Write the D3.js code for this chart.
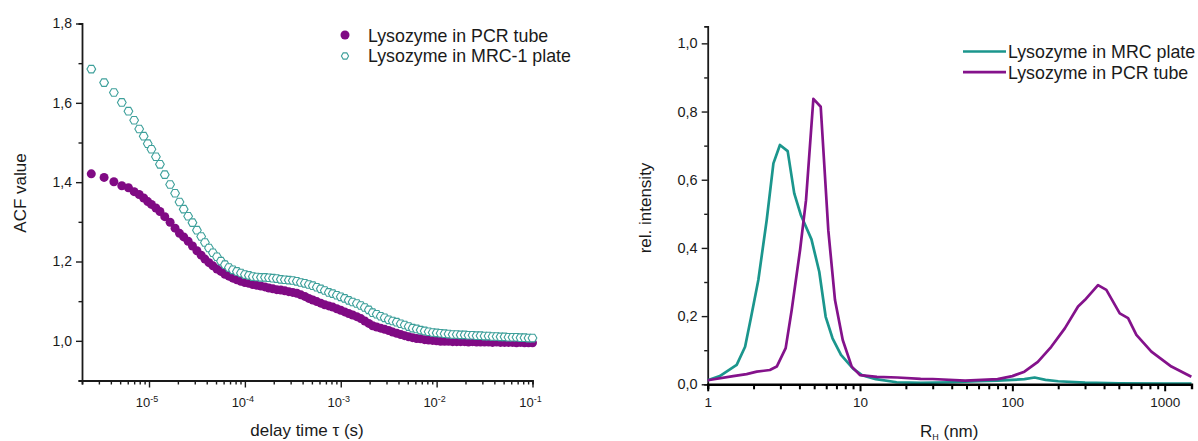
<!DOCTYPE html>
<html>
<head>
<meta charset="utf-8">
<script src="https://cdn.jsdelivr.net/npm/d3@7"></script>
<style>
  html, body { margin: 0; padding: 0; background: #fff; }
  svg { display: block; font-family: "Liberation Sans", Arial, sans-serif; }
</style>
</head>
<body>
<svg id="chart" width="1198" height="441"></svg>
<script>
// ---------- Left panel: autocorrelation function ----------
const tauUs = [2.5, 3.4, 4.3, 5.2, 6.1, 7.0, 7.9, 8.8, 9.7, 10.6, 11.8, 13.0, 14.6, 16.6, 18.7, 20.8, 23.0, 25.6, 28.4, 31.6,
  35.0, 38.3, 42.2, 46.4, 51.1, 56.2, 61.9, 68.1, 75.0, 82.5, 90.9,
  100, 110, 121, 133, 147, 162, 178, 196, 215, 237, 261, 287, 316, 348, 383, 422, 464, 511, 562, 619, 681, 750, 825, 909,
  1000, 1100, 1210, 1330, 1470, 1620, 1780, 1960, 2150, 2370, 2610, 2870, 3160, 3480, 3830, 4220, 4640, 5110, 5620, 6190, 6810, 7500, 8250, 9090,
  10000, 11000, 12100, 13300, 14700, 16200, 17800, 19600, 21500, 23700, 26100, 28700, 31600, 34800, 38300, 42200, 46400, 51100, 56200, 61900, 68100, 75000, 82500, 90900, 100000];

const acfPCR = [1.421, 1.412, 1.401, 1.391, 1.386, 1.376, 1.369, 1.360, 1.351, 1.344, 1.335, 1.326, 1.313, 1.299, 1.284, 1.271, 1.262, 1.251, 1.239, 1.227,
  1.216, 1.206, 1.197, 1.189, 1.181, 1.175, 1.168, 1.163, 1.158, 1.154, 1.150,
  1.147, 1.145, 1.142, 1.140, 1.138, 1.136, 1.133, 1.131, 1.129, 1.128, 1.126, 1.124, 1.122, 1.120, 1.116, 1.112, 1.107, 1.103, 1.099, 1.095, 1.091, 1.088, 1.085, 1.081,
  1.077, 1.073, 1.069, 1.065, 1.061, 1.056, 1.050, 1.044, 1.038, 1.035, 1.032, 1.029, 1.026, 1.022, 1.019, 1.016, 1.013, 1.010, 1.008, 1.006, 1.005, 1.003, 1.002, 1.001,
  1.000, 0.999, 0.999, 0.999, 0.998, 0.998, 0.998, 0.998, 0.997, 0.998, 0.997, 0.997, 0.997, 0.997, 0.996, 0.997, 0.996, 0.996, 0.996, 0.996, 0.995, 0.996, 0.995, 0.995, 0.995];

const acfMRC = [1.685, 1.651, 1.626, 1.601, 1.579, 1.556, 1.534, 1.516, 1.497, 1.483, 1.464, 1.445, 1.419, 1.394, 1.372, 1.350, 1.332, 1.314, 1.298, 1.279,
  1.263, 1.248, 1.234, 1.222, 1.212, 1.201, 1.192, 1.185, 1.179, 1.175, 1.171,
  1.167, 1.165, 1.162, 1.161, 1.160, 1.160, 1.159, 1.158, 1.157, 1.155, 1.154, 1.153, 1.152, 1.150, 1.147, 1.145, 1.142, 1.139, 1.135, 1.131, 1.127, 1.122, 1.119, 1.115,
  1.111, 1.107, 1.102, 1.098, 1.094, 1.089, 1.084, 1.078, 1.071, 1.067, 1.062, 1.058, 1.053, 1.050, 1.047, 1.043, 1.040, 1.036, 1.032, 1.030, 1.027, 1.025, 1.023, 1.021,
  1.020, 1.019, 1.018, 1.017, 1.016, 1.016, 1.015, 1.015, 1.014, 1.014, 1.013, 1.013, 1.012, 1.012, 1.011, 1.011, 1.010, 1.010, 1.009, 1.009, 1.009, 1.008, 1.008, 1.007, 1.007];

const acfTicks = [1.0, 1.2, 1.4, 1.6, 1.8];
const acfTickLabels = ["1,0", "1,2", "1,4", "1,6", "1,8"];
const acfMinorTicks = [0.9, 1.1, 1.3, 1.5, 1.7];
const tauTicks = [1e-5, 1e-4, 1e-3, 1e-2, 1e-1];
const tauTickExp = ["-5", "-4", "-3", "-2", "-1"];
const leftLegend = ["Lysozyme in PCR tube", "Lysozyme in MRC-1 plate"];

// ---------- Right panel: size distribution ----------
const rhMRC = [1.0, 1.2, 1.55, 1.76, 1.92, 2.15, 2.44, 2.70, 2.98, 3.35, 3.70, 4.1, 4.8, 5.4, 5.95, 6.6, 7.5, 9.0, 10.3, 12.7, 17.4, 25, 40, 60, 80, 100, 120, 140, 165, 200, 300, 500, 1000, 1500];
const intMRC = [0.012, 0.024, 0.057, 0.110, 0.194, 0.306, 0.482, 0.648, 0.702, 0.684, 0.560, 0.495, 0.425, 0.330, 0.198, 0.135, 0.086, 0.046, 0.027, 0.015, 0.006, 0.004, 0.006, 0.009, 0.011, 0.013, 0.015, 0.020, 0.013, 0.009, 0.005, 0.003, 0.002, 0.002];

const rhPCR = [1.0, 1.47, 1.80, 2.10, 2.56, 2.84, 3.25, 3.56, 4.04, 4.42, 4.94, 5.52, 6.19, 6.85, 7.70, 8.82, 10, 12.9, 17.6, 25, 30, 49, 63, 80, 100, 120, 147, 180, 221, 270, 299, 365, 414, 507, 575, 652, 818, 1107, 1497];
const intPCR = [0.012, 0.024, 0.030, 0.037, 0.042, 0.052, 0.106, 0.218, 0.394, 0.540, 0.837, 0.814, 0.452, 0.247, 0.130, 0.052, 0.027, 0.022, 0.020, 0.016, 0.0155, 0.011, 0.013, 0.015, 0.024, 0.037, 0.066, 0.110, 0.164, 0.228, 0.247, 0.291, 0.277, 0.208, 0.194, 0.145, 0.096, 0.052, 0.022];

const intTicks = [0, 0.2, 0.4, 0.6, 0.8, 1.0];
const intTickLabels = ["0,0", "0,2", "0,4", "0,6", "0,8", "1,0"];
const intMinorTicks = [0.1, 0.3, 0.5, 0.7, 0.9];
const rhTicks = [1, 10, 100, 1000];
const rhTickLabels = ["1", "10", "100", "1000"];
const rightLegend = ["Lysozyme in MRC plate", "Lysozyme in PCR tube"];

// ---------- colours ----------
const purple = "#800a84";
const cyanMarker = "#3ea09b";
const tealLine = "#1b968d";
const purpleLine = "#84128b";
const axisColor = "#1a1a1a";
const textColor = "#1a1a1a";

const svg = d3.select("#chart");

// hexagon symbol (size = radius squared)
const hexagon = {
  draw(ctx, size) {
    const r = Math.sqrt(size);
    for (let i = 0; i < 6; i++) {
      const a = Math.PI / 3 * i;
      const px = r * Math.cos(a), py = r * Math.sin(a);
      if (i === 0) ctx.moveTo(px, py); else ctx.lineTo(px, py);
    }
    ctx.closePath();
  }
};

// ================= LEFT PANEL =================
const xL = d3.scaleLog().domain([2e-6, 0.1]).range([82, 532.5]);
const yL = d3.scaleLinear().domain([0.9, 1.8]).range([380.5, 23.5]);
const L = svg.append("g");

const minorTau = xL.ticks().filter(v => !tauTicks.some(t => Math.abs(t - v) / t < 1e-6));
L.append("g").attr("transform", `translate(0,${yL(0.9)})`)
  .call(d3.axisBottom(xL).tickValues(minorTau).tickSize(4).tickFormat(""))
  .call(g => g.select(".domain").attr("stroke", axisColor).attr("stroke-width", 1.8))
  .call(g => g.selectAll(".tick line").attr("stroke", axisColor).attr("stroke-width", 1.4));
L.append("g").attr("transform", `translate(0,${yL(0.9)})`)
  .call(d3.axisBottom(xL).tickValues(tauTicks).tickSize(7).tickFormat(""))
  .call(g => g.select(".domain").remove())
  .call(g => g.selectAll(".tick line").attr("stroke", axisColor).attr("stroke-width", 1.4));
tauTicks.forEach((t, i) => {
  const tx = L.append("text").attr("x", xL(t) - 2).attr("y", 406.5)
    .attr("text-anchor", "middle").attr("font-size", 13).attr("fill", textColor);
  tx.append("tspan").text("10");
  tx.append("tspan").attr("dy", -5).attr("font-size", 9).text(tauTickExp[i]);
});

L.append("g").attr("transform", `translate(${xL(2e-6)},0)`)
  .call(d3.axisLeft(yL).tickValues(acfMinorTicks).tickSize(3.5).tickFormat(""))
  .call(g => g.select(".domain").attr("stroke", axisColor).attr("stroke-width", 1.8))
  .call(g => g.selectAll(".tick line").attr("stroke", axisColor).attr("stroke-width", 1.4));
L.append("g").attr("transform", `translate(${xL(2e-6)},0)`)
  .call(d3.axisLeft(yL).tickValues(acfTicks).tickSize(6).tickPadding(4).tickFormat((d, i) => acfTickLabels[i]))
  .call(g => g.select(".domain").remove())
  .call(g => g.selectAll(".tick line").attr("stroke", axisColor).attr("stroke-width", 1.4))
  .call(g => g.selectAll(".tick text").attr("font-size", 14).attr("fill", textColor)
    .attr("font-family", "Liberation Sans, Arial, sans-serif"));

L.append("text").attr("transform", `translate(26,193) rotate(-90)`)
  .attr("text-anchor", "middle").attr("font-size", 17).attr("fill", textColor).text("ACF value");
L.append("text").attr("x", 307).attr("y", 436)
  .attr("text-anchor", "middle").attr("font-size", 17).attr("fill", textColor).text("delay time τ (s)");

// data
const pts = tauUs.map((t, i) => ({ tau: t * 1e-6, pcr: acfPCR[i], mrc: acfMRC[i] }));
L.append("g").selectAll("circle").data(pts).join("circle")
  .attr("cx", d => xL(d.tau)).attr("cy", d => yL(d.pcr)).attr("r", 4.5)
  .attr("fill", purple);
const hexPath = d3.symbol().type(hexagon).size(19)();
L.append("g").selectAll("path").data(pts).join("path")
  .attr("d", hexPath)
  .attr("transform", d => `translate(${xL(d.tau)},${yL(d.mrc)})`)
  .attr("fill", "#fff").attr("stroke", cyanMarker).attr("stroke-width", 1.1);

// legend
const lg = L.append("g");
lg.append("circle").attr("cx", 345).attr("cy", 35).attr("r", 4.5).attr("fill", purple);
lg.append("path").attr("d", d3.symbol().type(hexagon).size(13)())
  .attr("transform", "translate(345,56)").attr("fill", "#fff").attr("stroke", cyanMarker).attr("stroke-width", 1.1);
leftLegend.forEach((s, i) => {
  lg.append("text").attr("x", 368).attr("y", 41.5 + i * 20.7).attr("font-size", 17.8).attr("fill", textColor).text(s);
});

// ================= RIGHT PANEL =================
const xR = d3.scaleLog().domain([1, 1500]).range([707.7, 1191.5]);
const yR = d3.scaleLinear().domain([0, 1.05]).range([384.3, 26.3]);
const R = svg.append("g");

R.append("g").attr("transform", `translate(${xR(1)},0)`)
  .call(d3.axisLeft(yR).tickValues(intMinorTicks).tickSize(3.5).tickFormat(""))
  .call(g => g.select(".domain").attr("stroke", axisColor).attr("stroke-width", 1.8))
  .call(g => g.selectAll(".tick line").attr("stroke", axisColor).attr("stroke-width", 1.4));
R.append("g").attr("transform", `translate(${xR(1)},0)`)
  .call(d3.axisLeft(yR).tickValues(intTicks).tickSize(6).tickPadding(4).tickFormat((d, i) => intTickLabels[i]))
  .call(g => g.select(".domain").remove())
  .call(g => g.selectAll(".tick line").attr("stroke", axisColor).attr("stroke-width", 1.4))
  .call(g => g.selectAll(".tick text").attr("font-size", 14.5).attr("fill", textColor)
    .attr("font-family", "Liberation Sans, Arial, sans-serif"));

R.append("text").attr("transform", `translate(651,208) rotate(-90)`)
  .attr("text-anchor", "middle").attr("font-size", 17).attr("fill", textColor).text("rel. intensity");

// data lines
const lineR = d3.line().x(d => xR(d[0])).y(d => yR(d[1]));
R.append("path").datum(rhMRC.map((r, i) => [r, intMRC[i]]))
  .attr("d", lineR).attr("fill", "none").attr("stroke", tealLine).attr("stroke-width", 2.7)
  .attr("stroke-linejoin", "round");
R.append("path").datum(rhPCR.map((r, i) => [r, intPCR[i]]))
  .attr("d", lineR).attr("fill", "none").attr("stroke", purpleLine).attr("stroke-width", 2.7)
  .attr("stroke-linejoin", "round");

// x axis (drawn above data)
const minorRh = xR.ticks().filter(v => !rhTicks.includes(v));
R.append("g").attr("transform", `translate(0,${yR(0)})`)
  .call(d3.axisBottom(xR).tickValues(minorRh).tickSize(5).tickFormat(""))
  .call(g => g.select(".domain").attr("stroke", "#000").attr("stroke-width", 2.4))
  .call(g => g.selectAll(".tick line").attr("stroke", "#000").attr("stroke-width", 2));
R.append("g").attr("transform", `translate(0,${yR(0)})`)
  .call(d3.axisBottom(xR).tickValues(rhTicks).tickSize(7).tickPadding(6).tickFormat((d, i) => rhTickLabels[i]))
  .call(g => g.select(".domain").remove())
  .call(g => g.selectAll(".tick line").attr("stroke", "#000").attr("stroke-width", 2))
  .call(g => g.selectAll(".tick text").attr("font-size", 13.5).attr("fill", textColor)
    .attr("font-family", "Liberation Sans, Arial, sans-serif"));

const rl = R.append("text").attr("x", 920).attr("y", 437).attr("font-size", 17).attr("fill", textColor);
rl.append("tspan").text("R");
rl.append("tspan").attr("font-size", 9).attr("dy", 3).text("H");
rl.append("tspan").attr("dy", -3).text(" (nm)");

// legend
const rlg = R.append("g");
[tealLine, purpleLine].forEach((c, i) => {
  const y = 51.5 + i * 20.7;
  rlg.append("line").attr("x1", 963).attr("x2", 1006).attr("y1", y).attr("y2", y)
    .attr("stroke", c).attr("stroke-width", 2.7);
  rlg.append("text").attr("x", 1008).attr("y", y + 6.5).attr("font-size", 17.8).attr("fill", textColor).text(rightLegend[i]);
});
</script>
</body>
</html>
